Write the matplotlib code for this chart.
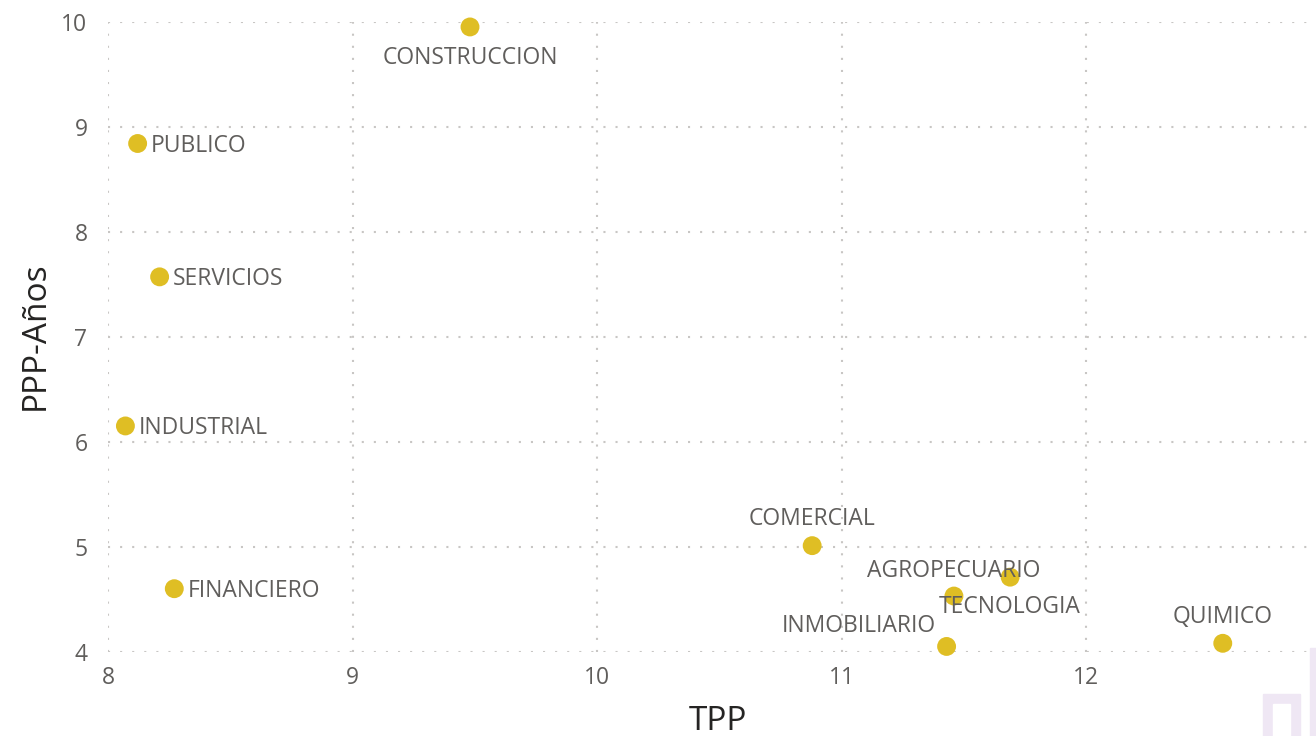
import matplotlib
matplotlib.use("Agg")
import matplotlib.pyplot as plt
from matplotlib.patches import Rectangle

# ---- data ----
sectors = ["CONSTRUCCION", "PUBLICO", "SERVICIOS", "INDUSTRIAL", "FINANCIERO",
           "COMERCIAL", "AGROPECUARIO", "TECNOLOGIA", "INMOBILIARIO", "QUIMICO"]
tpp = [9.48, 8.12, 8.21, 8.07, 8.27, 10.88, 11.46, 11.69, 11.43, 12.56]
ppp_anios = [9.95, 8.84, 7.57, 6.15, 4.60, 5.01, 4.53, 4.71, 4.05, 4.08]
x_ticks = [8, 9, 10, 11, 12]
y_ticks = [4, 5, 6, 7, 8, 9, 10]

# label placement: (dx px, dy px, ha, va)
label_pos = {
    "CONSTRUCCION": (0, -31, "center", "center"),
    "PUBLICO": (13, -2, "left", "center"),
    "SERVICIOS": (13, -2, "left", "center"),
    "INDUSTRIAL": (13, -2, "left", "center"),
    "FINANCIERO": (13, -2, "left", "center"),
    "COMERCIAL": (0, 27, "center", "center"),
    "AGROPECUARIO": (0, 25, "center", "center"),
    "TECNOLOGIA": (0, -30, "center", "center"),
    "INMOBILIARIO": (-11, 20, "right", "center"),
    "QUIMICO": (0, 26, "center", "center"),
}

plt.rcParams["font.family"] = ["Open Sans", "DejaVu Sans"]
plt.rcParams["lines.scale_dashes"] = False

W, H = 1316, 736
fig = plt.figure(figsize=(W / 100, H / 100), dpi=100)
fig.patch.set_facecolor("white")

left, right, top, bottom = 108.3, 1316, 21.7, 651.7
ax = fig.add_axes([left / W, (H - bottom) / H, (right - left) / W, (bottom - top) / H])

x_max = 8 + (right - left) / 244.4
ax.set_xlim(8, x_max)
ax.set_ylim(4, 10)
ax.set_xticks(x_ticks)
ax.set_yticks(y_ticks)
for s in ax.spines.values():
    s.set_visible(False)
ax.grid(True, color="#C8C6C4", linewidth=1.5, linestyle=(0, (1.5, 7.2)))
ax.set_axisbelow(True)
ax.tick_params(length=0, labelsize=16.5, colors="#605E5C")
ax.tick_params(axis="y", pad=15)
ax.tick_params(axis="x", pad=10)

ax.scatter(tpp, ppp_anios, s=185, color="#DFBE24", edgecolors="none", zorder=3, clip_on=False)

for name, x, y in zip(sectors, tpp, ppp_anios):
    dx, dy, ha, va = label_pos[name]
    ax.annotate(name, (x, y), xytext=(dx, dy), textcoords="offset pixels",
                ha=ha, va=va, fontsize=16.5, color="#605E5C", zorder=4,
                annotation_clip=False)

fig.text(718 / W, 1 - 722 / H, "TPP", fontsize=24, color="#252423", ha="center", va="center")
fig.text(35 / W, 1 - 336 / H, "PPP-Años", fontsize=24, color="#252423", ha="center",
         va="center", rotation=90)

# decorative watermark at bottom-right
wm = "#EFE7F4"
for (x0, y0, x1, y1) in [(1263, 694, 1300, 736), (1310, 648, 1316, 736)]:
    fig.patches.append(Rectangle((x0 / W, 1 - y1 / H), (x1 - x0) / W, (y1 - y0) / H,
                                 transform=fig.transFigure, color=wm, zorder=0))
fig.patches.append(Rectangle((1273 / W, 1 - 736 / H), 17 / W, 32 / H,
                             transform=fig.transFigure, color="white", zorder=0.5))

fig.savefig("out.png", dpi=100)
